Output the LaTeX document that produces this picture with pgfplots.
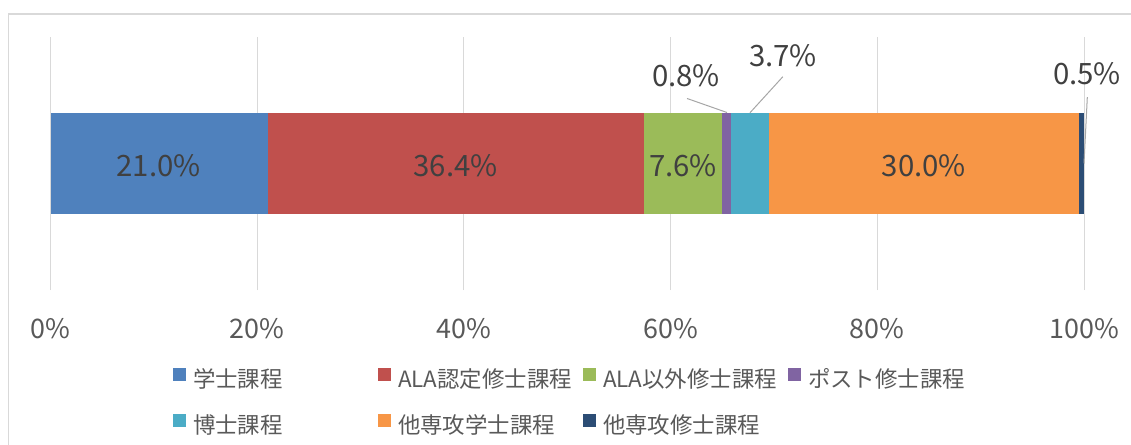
\documentclass[border=0pt]{standalone}
\usepackage{pgfplots}
\pgfplotsset{compat=1.18}
\usepackage{fontspec}
\setmainfont{Noto Sans CJK JP}
\definecolor{c1}{HTML}{4F81BD}
\definecolor{c2}{HTML}{C0504D}
\definecolor{c3}{HTML}{9BBB59}
\definecolor{c4}{HTML}{8064A2}
\definecolor{c5}{HTML}{4BACC6}
\definecolor{c6}{HTML}{F79646}
\definecolor{c7}{HTML}{2C4D75}
\definecolor{gridc}{HTML}{D9D9D9}
\definecolor{tickc}{HTML}{595959}
\definecolor{labc}{HTML}{404040}
\definecolor{leadc}{HTML}{A6A6A6}
\tikzset{dlab/.style={font=\fontsize{29.5}{32}\selectfont, text=labc}}
\pgfplotsset{
  sqlegend/.style={legend image code/.code={\fill[##1, draw=none] (0bp,0.5bp) rectangle (13bp,13.5bp);}}
}
\begin{document}
\begin{tikzpicture}
\useasboundingbox (0bp,0bp) rectangle (1131bp,445bp);
\draw[color=gridc, line width=1.5bp] (8.5bp,431bp) rectangle (1200bp,-20bp);
\begin{axis}[
  at={(50.5bp,155bp)}, anchor=south west,
  scale only axis, width=1033.5bp, height=253bp,
  xbar stacked, bar width=100.5bp,
  xmin=0, xmax=100, ymin=-1, ymax=1,
  axis line style={draw=none},
  ytick=\empty,
  xtick={0,20,40,60,80,100},
  xticklabels={0\%,20\%,40\%,60\%,80\%,100\%},
  major tick length=0pt,
  xmajorgrids, grid style={color=gridc, line width=1bp},
  xticklabel style={font=\fontsize{27}{30}\selectfont, text=tickc, anchor=base, yshift=-48bp},
  clip=false,
  legend columns=4,
  sqlegend,
  legend style={at={(0.11853,-0.3083)}, anchor=north west, draw=none, fill=none,
    inner sep=0pt, outer sep=0pt, row sep=21bp,
    font=\fontsize{22.5}{26}\selectfont, text=tickc,
    nodes={inner sep=0pt, outer sep=0pt, text height=17bp, text depth=5bp},
    /tikz/every odd column/.append style={column sep=7bp}},
]
\addplot[fill=c1, draw=none] coordinates {(21.0,0)};
\addlegendentry{\makebox[185bp][l]{学士課程}}
\addplot[fill=c2, draw=none] coordinates {(36.4,0)};
\addlegendentry{\makebox[185bp][l]{ALA認定修士課程}}
\addplot[fill=c3, draw=none] coordinates {(7.6,0)};
\addlegendentry{\makebox[185bp][l]{ALA以外修士課程}}
\addplot[fill=c4, draw=none] coordinates {(0.8,0)};
\addlegendentry{\makebox[185bp][l]{ポスト修士課程}}
\addplot[fill=c5, draw=none] coordinates {(3.7,0)};
\addlegendentry{\makebox[185bp][l]{博士課程}}
\addplot[fill=c6, draw=none] coordinates {(30.0,0)};
\addlegendentry{\makebox[185bp][l]{他専攻学士課程}}
\addplot[fill=c7, draw=none] coordinates {(0.5,0)};
\addlegendentry{\makebox[185bp][l]{他専攻修士課程}}
\coordinate (L1) at (axis cs:10.45,-0.016);
\coordinate (L2) at (axis cs:39.2,-0.016);
\coordinate (L3) at (axis cs:61.2,-0.016);
\coordinate (L4) at (axis cs:84.5,-0.016);
\coordinate (L5) at (axis cs:61.5,0.696);
\coordinate (L6) at (axis cs:70.87,0.854);
\coordinate (L7) at (axis cs:100.29,0.709);
\coordinate (A1) at (axis cs:61.59,0.514);
\coordinate (B1) at (axis cs:65.46,0.403);
\coordinate (A2) at (axis cs:70.86,0.686);
\coordinate (B2) at (axis cs:67.68,0.401);
\coordinate (A3) at (axis cs:100.32,0.524);
\coordinate (B3) at (axis cs:100.0,0.0);
\end{axis}
\node[dlab] at (L1) {21.0\%};
\node[dlab] at (L2) {36.4\%};
\node[dlab] at (L3) {7.6\%};
\node[dlab] at (L4) {30.0\%};
\node[dlab] at (L5) {0.8\%};
\node[dlab] at (L6) {3.7\%};
\node[dlab] at (L7) {0.5\%};
\draw[leadc, line width=1bp] (A1) -- (B1);
\draw[leadc, line width=1bp] (A2) -- (B2);
\draw[leadc, line width=1bp] (A3) -- (B3);
\end{tikzpicture}
\end{document}
